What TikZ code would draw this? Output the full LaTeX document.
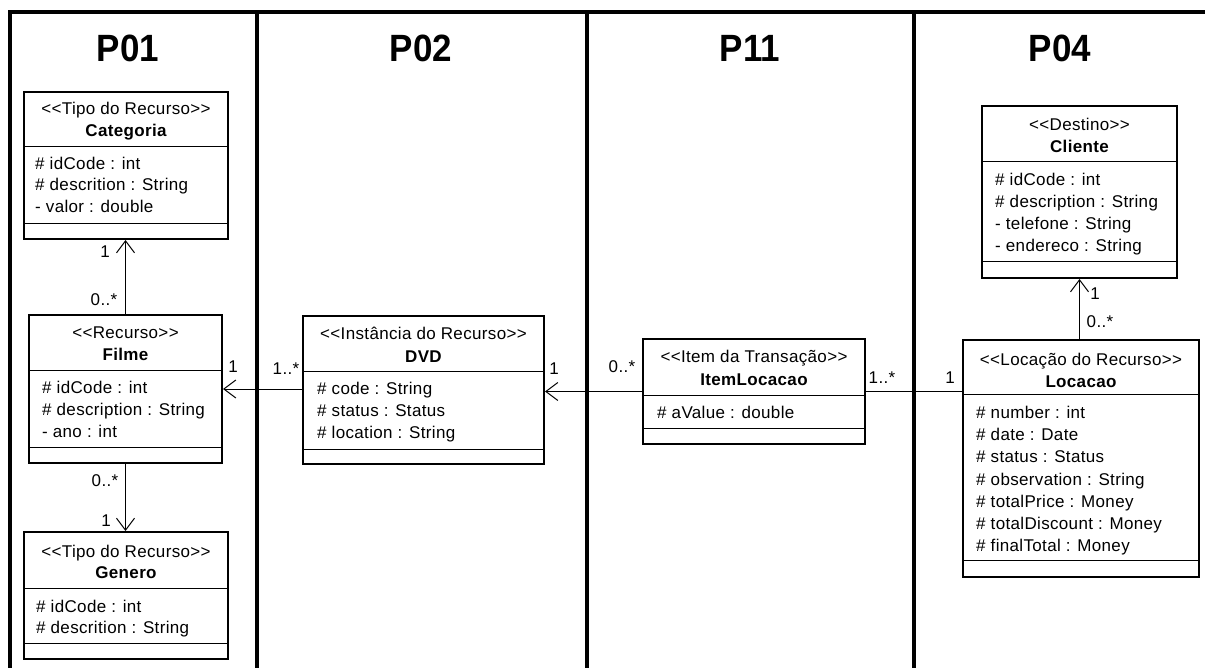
\documentclass[tikz,border=0pt]{standalone}
\usepackage{fontspec}
\setmainfont{Liberation Sans}[Ligatures=TeXOff]
\newfontfamily\umlfont{Liberation Sans}[LetterSpace=2,Ligatures=TeXOff]
\newfontfamily\titlefont{Liberation Sans}[FakeStretch=0.92,Ligatures=TeXOff]
\usetikzlibrary{arrows.meta,fit}
\newcommand\umlcls[7]{%
  \node[classbox, fit={(#2,#3) (#4,#5)}] (#1) {};
  \draw[sepline] (#1.west |- 0,#6) -- (#1.east |- 0,#6);
  \draw[sepline] (#1.west |- 0,#7) -- (#1.east |- 0,#7);
}
\newcommand\umlattrs[5]{% prefix, x, first base, step, list
  \foreach \t [count=\i] in {#5} \node[attr] (#1-a\i) at (#2, {#3+(\i-1)*#4}) {\t};
}
\begin{document}
\begin{tikzpicture}[x=1pt,y=-1pt,
  classbox/.style={draw=black, line width=2pt, inner sep=0pt, fill=white},
  sepline/.style={line width=1pt},
  umltext/.style={font=\umlfont\fontsize{17}{20}\selectfont, inner sep=0pt},
  stereo/.style={umltext, anchor=base},
  cname/.style={umltext, anchor=base, font=\umlfont\bfseries\fontsize{17}{20}\selectfont},
  attr/.style={umltext, anchor=base west},
  mult/.style={umltext, anchor=base},
  assoc/.style={line width=1pt},
  nav/.style={assoc, -{Straight Barb[length=12pt,width=18pt]}},
  panel/.style={line width=3.5pt},
  title/.style={font=\titlefont\bfseries\fontsize{38}{42}\selectfont, anchor=base, inner sep=0pt}]
\useasboundingbox (0,0) rectangle (1205,668);
\fill[white] (0,0) rectangle (1205,668);

% panels
\draw[panel] (8,12) -- (1205,12);
\draw[panel] (10,10.5) -- (10,668);
\draw[panel] (257,12) -- (257,668);
\draw[panel] (587,12) -- (587,668);
\draw[panel] (914,12) -- (914,668);
\node[title] (t1) at (128,62) {P01};
\node[title] (t2) at (421,62) {P02};
\node[title] (t3) at (750,62) {P11};
\node[title] (t4) at (1060,62) {P04};

% Categoria
\umlcls{cat}{24}{92}{228}{239}{147}{224}
\node[stereo] (cat-s) at (126,114.5) {<<Tipo do Recurso>>};
\node[cname] (cat-n) at (126,136.5) {Categoria};
\umlattrs{cat}{35}{169.5}{21.5}{\# idCode : int, \# descrition : String, - valor : double}

% Filme
\umlcls{fil}{29}{315}{222}{463}{370}{447}
\node[stereo] (fil-s) at (125.5,338.5) {<<Recurso>>};
\node[cname] (fil-n) at (125.5,360.5) {Filme};
\umlattrs{fil}{42}{393.5}{22}{\# idCode : int, \# description : String, - ano : int}

% Genero
\umlcls{gen}{24}{532}{228}{659}{588}{643}
\node[stereo] (gen-s) at (126,557.5) {<<Tipo do Recurso>>};
\node[cname] (gen-n) at (126,578.5) {Genero};
\umlattrs{gen}{36}{612.5}{21}{\# idCode : int, \# descrition : String}

% DVD
\umlcls{dvd}{303}{316}{544}{464}{371}{449}
\node[stereo] (dvd-s) at (423.5,339.5) {<<Instância do Recurso>>};
\node[cname] (dvd-n) at (423.5,362.5) {DVD};
\umlattrs{dvd}{317}{394.5}{22}{\# code : String, \# status : Status, \# location : String}

% ItemLocacao
\umlcls{itm}{643}{339}{865}{444}{395}{428}
\node[stereo] (itm-s) at (754,362.5) {<<Item da Transação>>};
\node[cname] (itm-n) at (754,385.5) {ItemLocacao};
\umlattrs{itm}{657}{418.5}{22}{\# aValue : double}

% Cliente
\umlcls{cli}{982}{106}{1177}{278}{162}{262}
\node[stereo] (cli-s) at (1079.5,130.5) {<<Destino>>};
\node[cname] (cli-n) at (1079.5,152.5) {Cliente};
\umlattrs{cli}{995}{185.5}{22}{\# idCode : int, \# description : String, - telefone : String, - endereco : String}

% Locacao
\umlcls{loc}{963}{340}{1199}{577}{394}{560}
\node[stereo] (loc-s) at (1081,365.5) {<<Locação do Recurso>>};
\node[cname] (loc-n) at (1081,387.5) {Locacao};
\umlattrs{loc}{976}{418.5}{22.2}{\# number : int, \# date : Date, \# status : Status, \# observation : String, \# totalPrice : Money, \# totalDiscount : Money, \# finalTotal : Money}

% connectors
\coordinate (r1) at (0,389);
\draw[nav] (fil.north) -- (fil.north |- cat.south);
\draw[nav] (fil.south) -- (fil.south |- gen.north);
\draw[nav] (dvd.west |- r1) -- (fil.east |- r1);
\draw[nav] (itm.west) -- (dvd.east |- itm.west);
\draw[assoc] (itm.east) -- (loc.west |- itm.east);
\draw[nav] (loc.north -| cli.south) -- (cli.south);

% multiplicities
\node[mult] (m1) at (105,258) {1};
\node[mult] (m2) at (104,306) {0..*};
\node[mult] (m3) at (105,486) {0..*};
\node[mult] (m4) at (106,526) {1};
\node[mult] (m5) at (233,373) {1};
\node[mult] (m6) at (286,374) {1..*};
\node[mult] (m7) at (554,374) {1};
\node[mult] (m8) at (622,372) {0..*};
\node[mult] (m9) at (882,383) {1..*};
\node[mult] (m10) at (950,383) {1};
\node[mult] (m11) at (1095,300) {1};
\node[mult] (m12) at (1100,327) {0..*};
\end{tikzpicture}
\end{document}
